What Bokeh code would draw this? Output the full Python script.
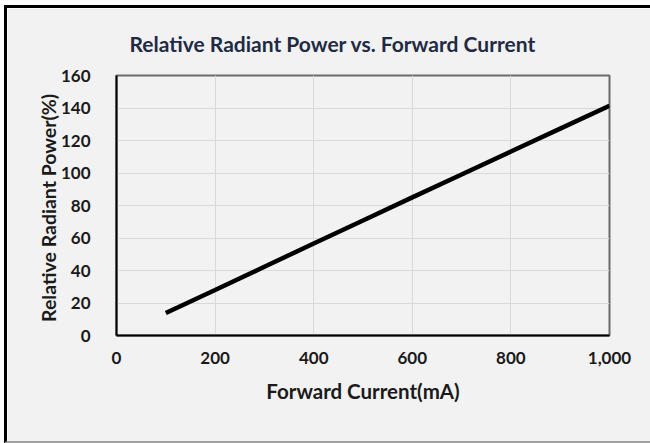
from bokeh.plotting import figure
from bokeh.models import NumeralTickFormatter, FixedTicker, Range1d
from bokeh.embed import file_html
from bokeh.resources import INLINE

# Data
current_ma = [100, 200, 300, 400, 500, 600, 700, 800, 900, 1000]
relative_power = [13.8, 28.0, 42.3, 56.6, 70.8, 85.0, 99.1, 113.2, 127.3, 141.4]

x_ticks = [0, 200, 400, 600, 800, 1000]
y_ticks = [0, 20, 40, 60, 80, 100, 120, 140, 160]

title_text = "Relative  Radiant Power vs. Forward Current"
x_label = "Forward Current(mA)"
y_label = "Relative  Radiant Power(%)"

FONT = "Lato"
BG = "#f2f2f2"

p = figure(width=646, height=438, output_backend="svg", toolbar_location=None,
           x_range=Range1d(0, 1000), y_range=Range1d(0, 160),
           min_border_left=109, min_border_right=44,
           min_border_top=67, min_border_bottom=111)
p.background_fill_color = BG
p.border_fill_color = BG
p.outline_line_color = "#6b6b6b"
p.outline_line_width = 2

p.line(current_ma, relative_power, line_color="black", line_width=4.5)

for ax in (p.xaxis[0], p.yaxis[0]):
    ax.axis_line_color = "black"
    ax.axis_line_width = 2
    ax.major_tick_line_color = None
    ax.minor_tick_line_color = None
    ax.major_label_text_font = FONT
    ax.major_label_text_font_style = "bold"
    ax.major_label_text_font_size = "17px"
    ax.major_label_text_color = "#1a1a1a"
    ax.axis_label_text_font = FONT
    ax.axis_label_text_font_style = "bold"
    ax.axis_label_text_color = "#1a1a1a"

p.xaxis.axis_label_text_font_size = "20.5px"
p.yaxis.axis_label_text_font_size = "19.5px"
p.xaxis.ticker = FixedTicker(ticks=x_ticks)
p.yaxis.ticker = FixedTicker(ticks=y_ticks)
p.xaxis.formatter = NumeralTickFormatter(format="0,0")
p.xaxis.axis_label = x_label
p.yaxis.axis_label = y_label
p.xaxis.major_label_standoff = 10
p.yaxis.major_label_standoff = 20
p.xaxis.axis_label_standoff = 12
p.yaxis.axis_label_standoff = -2

p.xgrid.grid_line_color = "#d9d9d9"
p.ygrid.grid_line_color = "#d9d9d9"
p.xgrid.ticker = FixedTicker(ticks=x_ticks)
p.ygrid.ticker = FixedTicker(ticks=y_ticks)

p.title.text = title_text
p.title.align = "left"
p.title.offset = 13
p.title.text_font = FONT
p.title.text_font_style = "bold"
p.title.text_font_size = "21px"
p.title.text_color = "#1f2a44"
p.title.standoff = 39

p.styles = {"margin-left": "4px", "margin-top": "5px",
            "border-left": "3px solid #000000", "border-top": "3px solid #000000",
            "border-bottom": "2px solid #a0a0a0", "box-sizing": "border-box"}

open("out.html", "w").write(file_html(p, INLINE))
